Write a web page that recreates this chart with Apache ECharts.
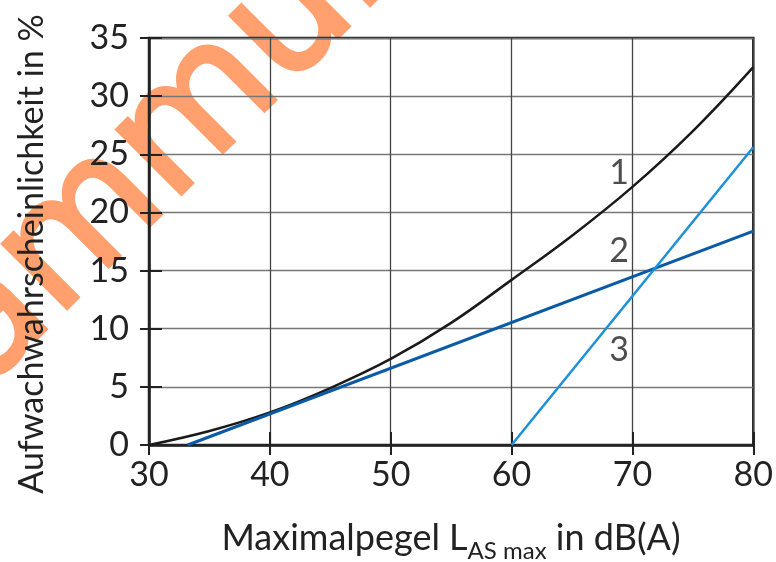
<!DOCTYPE html>
<html>
<head>
<meta charset="utf-8">
<script src="https://cdn.jsdelivr.net/npm/echarts@6/dist/echarts.min.js"></script>
<style>html,body{margin:0;padding:0;background:#fff}#c{width:776px;height:562px}</style>
</head>
<body>
<div id="c"></div>
<script>
// ---- data ----
const xTickValues = [30, 40, 50, 60, 70, 80];
const yTickValues = [0, 5, 10, 15, 20, 25, 30, 35];
const curve1X = [30, 35, 40, 45, 50, 55, 60, 65, 70, 75, 80];
const curve1Y = [0, 1.2, 2.8, 4.9, 7.4, 10.5, 14.2, 18.0, 22.2, 27.0, 32.5];
const curve2X = [33.2, 80];
const curve2Y = [0, 18.4];
const curve3X = [60, 80];
const curve3Y = [0, 25.6];
const curveLabels = ['1', '2', '3'];
const labelX = [68.9, 68.9, 68.9];
const labelY = [23.4, 16.7, 8.2];
const yAxisTitle = 'Aufwachwahrscheinlichkeit in %';
const xAxisTitleMain = 'Maximalpegel L';
const xAxisTitleSub = 'AS max';
const xAxisTitleEnd = ' in dB(A)';
const watermarkA = 'Schalld';
const watermarkB = 'ämmung';

const zip = (xs, ys) => xs.map((x, i) => [x, ys[i]]);
const FONT = 'Lato';
const WM = {fontSize: 166, fontFamily: 'DejaVu Sans', fill: '#ffa06e', stroke: '#ffa06e', lineWidth: 4, textVerticalAlign: 'middle'};

const chart = echarts.init(document.getElementById('c'), null, {renderer: 'canvas'});

const option = {
  animation: false,
  backgroundColor: '#fff',
  grid: {left: 149, right: 21, top: 38, bottom: 117, show: true, borderColor: '#222', borderWidth: 2.5, backgroundColor: 'transparent', z: 2},
  xAxis: [
    {
      type: 'value', min: xTickValues[0], max: xTickValues[xTickValues.length - 1], interval: 10, z: 2,
      axisLine: {show: true, lineStyle: {color: '#222', width: 2.5}},
      axisTick: {show: true, inside: false, length: 10, lineStyle: {color: '#222', width: 2}},
      axisLabel: {show: true, color: '#222', fontSize: 34, fontFamily: FONT, margin: 13},
      splitLine: {show: true, lineStyle: {color: '#444', width: 1.3}}
    },
    {
      type: 'value', min: xTickValues[0], max: xTickValues[xTickValues.length - 1], interval: 10, position: 'bottom', z: 2,
      axisLine: {show: false},
      axisTick: {show: true, inside: true, length: 13, lineStyle: {color: '#222', width: 2}},
      axisLabel: {show: false},
      splitLine: {show: false}
    }
  ],
  yAxis: [
    {
      type: 'value', min: yTickValues[0], max: yTickValues[yTickValues.length - 1], interval: 5, z: 2,
      axisLine: {show: true, lineStyle: {color: '#222', width: 2.5}},
      axisTick: {show: true, inside: false, length: 9, lineStyle: {color: '#222', width: 2}},
      axisLabel: {show: true, color: '#222', fontSize: 34, fontFamily: FONT, margin: 20},
      splitLine: {show: true, lineStyle: {color: '#777', width: 1.3}}
    },
    {
      type: 'value', min: yTickValues[0], max: yTickValues[yTickValues.length - 1], interval: 5, position: 'left', z: 2,
      axisLine: {show: false},
      axisTick: {show: true, inside: true, length: 13, lineStyle: {color: '#222', width: 2}},
      axisLabel: {show: false},
      splitLine: {show: false}
    }
  ],
  series: [
    {
      type: 'line', name: '1', data: zip(curve1X, curve1Y), smooth: 0.4, showSymbol: false,
      lineStyle: {color: '#1a1a1a', width: 2.5}, z: 3
    },
    {
      type: 'line', name: '2', data: zip(curve2X, curve2Y), showSymbol: false,
      lineStyle: {color: '#0a5aa6', width: 3}, z: 3
    },
    {
      type: 'line', name: '3', data: zip(curve3X, curve3Y), showSymbol: false,
      lineStyle: {color: '#1e90d8', width: 2.5}, z: 4
    },
    {
      type: 'scatter', symbolSize: 0, silent: true, z: 5,
      data: curveLabels.map((t, i) => ({value: [labelX[i], labelY[i]], name: t})),
      label: {show: true, position: 'inside', formatter: p => p.name, color: '#222', fontSize: 34, fontFamily: FONT}
    }
  ],
  graphic: {
    elements: [
      {
        type: 'text', x: -46, y: 360, rotation: Math.PI / 4, z: -10,
        style: Object.assign({text: watermarkB, textAlign: 'left'}, WM)
      },
      {
        type: 'text', x: -46, y: 360, rotation: Math.PI / 4, z: -10,
        style: Object.assign({text: watermarkA, textAlign: 'right'}, WM)
      },
      {
        type: 'text', x: 32, y: 254, rotation: Math.PI / 2, z: 10,
        style: {text: yAxisTitle, fontSize: 34, fontFamily: FONT, fill: '#222', textAlign: 'center', textVerticalAlign: 'middle'}
      },
      {
        type: 'text', x: 451, y: 538, z: 10,
        style: {
          text: '{m|' + xAxisTitleMain + '}{s|' + xAxisTitleSub + '}{m|' + xAxisTitleEnd + '}',
          textAlign: 'center', textVerticalAlign: 'middle',
          rich: {
            m: {fontSize: 36, fontFamily: FONT, fill: '#222', color: '#222'},
            s: {fontSize: 24, fontFamily: FONT, fill: '#222', color: '#222', padding: [27, 0, 0, 0]}
          }
        }
      }
    ]
  }
};
chart.setOption(option);
</script>
</body>
</html>
